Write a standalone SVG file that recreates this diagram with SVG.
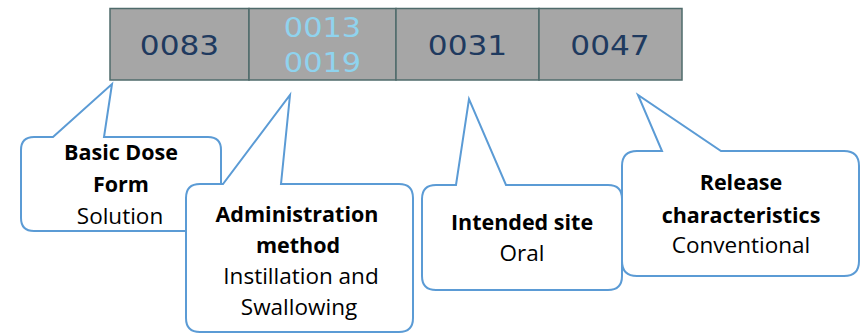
<svg xmlns="http://www.w3.org/2000/svg" width="863" height="333" viewBox="0 0 863 333">
<style>
.cell{fill:#a6a6a6;stroke:#4f6b6b;stroke-width:1.5}
.code{font-family:"DejaVu Sans",sans-serif;font-size:26px;fill:#1f3a5f;text-anchor:middle}
.code2{fill:#8fd3ee}
.call{fill:#ffffff;stroke:#5b9bd5;stroke-width:2;stroke-linejoin:miter}
.b{font-family:"Open Sans","Liberation Sans",sans-serif;font-size:21.5px;font-weight:bold;fill:#000;text-anchor:middle}
.r{font-family:"Open Sans","Liberation Sans",sans-serif;font-size:22.5px;fill:#000;text-anchor:middle}
</style>
<rect width="863" height="333" fill="#ffffff"/>
<g id="code-bar">
  <rect class="cell" x="110" y="8.5" width="139" height="71.5"/>
  <rect class="cell" x="249" y="8.5" width="147" height="71.5"/>
  <rect class="cell" x="396" y="8.5" width="143" height="71.5"/>
  <rect class="cell" x="539" y="8.5" width="143" height="71.5"/>
  <text class="code" transform="translate(179.5,55) scale(1.2,1)">0083</text>
  <text class="code code2" transform="translate(322.5,37) scale(1.17,1)">0013</text>
  <text class="code code2" transform="translate(322.5,72) scale(1.17,1)">0019</text>
  <text class="code" transform="translate(467.5,55) scale(1.2,1)">0031</text>
  <text class="code" transform="translate(610,55) scale(1.2,1)">0047</text>
</g>
<g id="callout-basic-dose-form">
  <path class="call" d="M34,137 L53,137 L112,84 L104,137 L208,137 Q221,137 221,150 L221,218 Q221,231 208,231 L34,231 Q21,231 21,218 L21,150 Q21,137 34,137 Z"/>
  <text class="b" x="121" y="160">Basic Dose</text>
  <text class="b" x="121" y="192">Form</text>
  <text class="r" x="120" y="224">Solution</text>
</g>
<g id="callout-administration-method">
  <path class="call" d="M200,184 L223,184 L290,95 L281,184 L399,184 Q413,184 413,198 L413,318 Q413,332 399,332 L200,332 Q186,332 186,318 L186,198 Q186,184 200,184 Z"/>
  <text class="b" x="297" y="222">Administration</text>
  <text class="b" x="298" y="253">method</text>
  <text class="r" x="301" y="284">Instillation and</text>
  <text class="r" x="299" y="315">Swallowing</text>
</g>
<g id="callout-intended-site">
  <path class="call" d="M436,185 L456,185 L469,99 L506,185 L608,185 Q622,185 622,199 L622,276 Q622,290 608,290 L436,290 Q422,290 422,276 L422,199 Q422,185 436,185 Z"/>
  <text class="b" x="522" y="230">Intended site</text>
  <text class="r" x="522" y="261">Oral</text>
</g>
<g id="callout-release-characteristics">
  <path class="call" d="M637,151 L662,151 L638,95 L721,151 L844,151 Q859,151 859,166 L859,261 Q859,276 844,276 L637,276 Q622,276 622,261 L622,166 Q622,151 637,151 Z"/>
  <text class="b" x="741" y="190">Release</text>
  <text class="b" x="741" y="223">characteristics</text>
  <text class="r" x="741" y="253">Conventional</text>
</g>
<g id="connectors"></g>
</svg>
